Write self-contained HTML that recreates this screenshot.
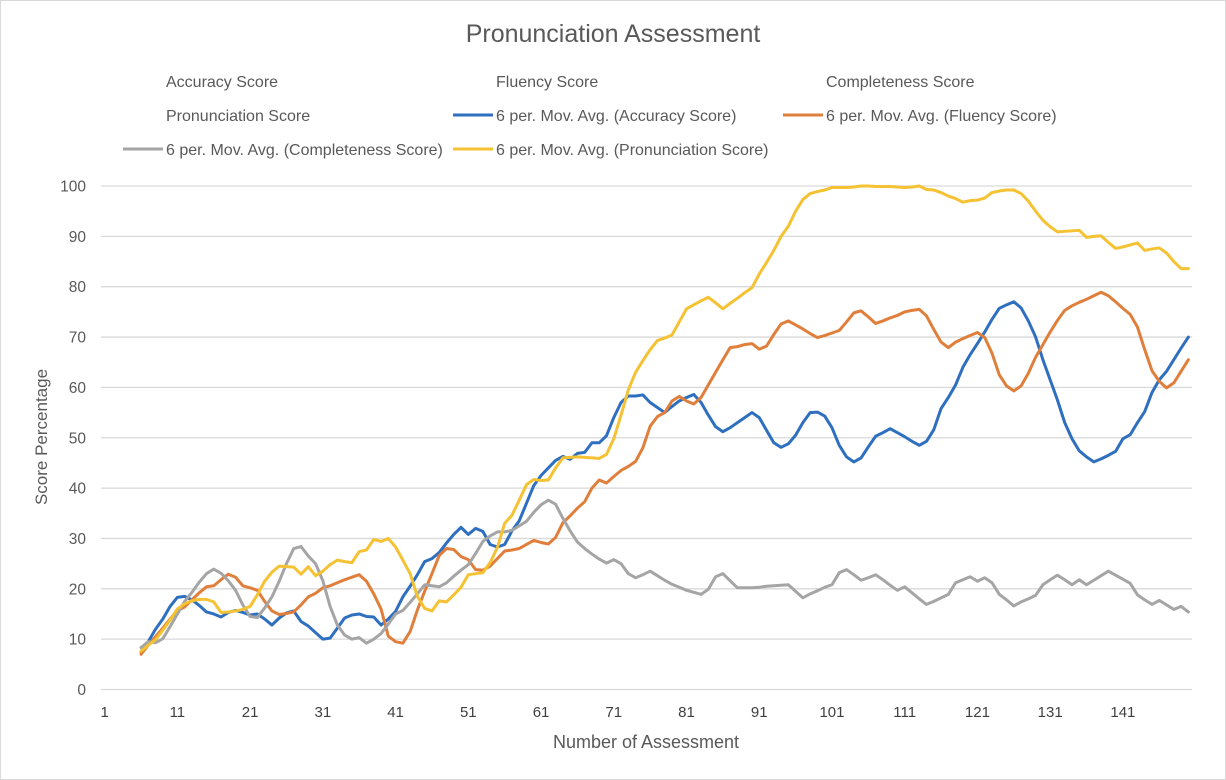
<!DOCTYPE html>
<html><head><meta charset="utf-8"><style>
body{margin:0;background:#fff;}
svg{display:block;font-family:"Liberation Sans",Calibri,sans-serif;}
</style></head><body>
<svg id="chart" width="1226" height="780" viewBox="0 0 1226 780" xmlns="http://www.w3.org/2000/svg">
<rect x="0.5" y="0.5" width="1225" height="779" fill="#fff" stroke="#d9d9d9"/>
<text x="613" y="42" text-anchor="middle" font-size="25" fill="#595959">Pronunciation Assessment</text>
<g id="legend" font-size="16" fill="#595959">
<text x="166" y="87">Accuracy Score</text>
<text x="496" y="87">Fluency Score</text>
<text x="826" y="87">Completeness Score</text>
<text x="166" y="121">Pronunciation Score</text>
<line x1="453" y1="115" x2="493" y2="115" stroke="#2e6fc0" stroke-width="3"/>
<text x="496" y="121">6 per. Mov. Avg. (Accuracy Score)</text>
<line x1="783" y1="115" x2="823" y2="115" stroke="#e07f3c" stroke-width="3"/>
<text x="826" y="121">6 per. Mov. Avg. (Fluency Score)</text>
<line x1="123" y1="149" x2="163" y2="149" stroke="#a5a5a5" stroke-width="3"/>
<text x="166" y="155">6 per. Mov. Avg. (Completeness Score)</text>
<line x1="453" y1="149" x2="493" y2="149" stroke="#f4c232" stroke-width="3"/>
<text x="496" y="155">6 per. Mov. Avg. (Pronunciation Score)</text>
</g>
<g id="grid"></g>
<g id="axes"></g>
<g id="series"></g>
<text transform="translate(47,437) rotate(-90)" text-anchor="middle" font-size="17" fill="#595959">Score Percentage</text>
<text x="646" y="748" text-anchor="middle" font-size="18" fill="#595959">Number of Assessment</text>
</svg>
<script>
const firstCategory = 6;
const categoryCount = 150;
const yTicks = [0,10,20,30,40,50,60,70,80,90,100];
const xTickLabels = [1,11,21,31,41,51,61,71,81,91,101,111,121,131,141];
const accuracyMA = [7.5,9.5,12,14,16.5,18.3,18.5,17.8,16.7,15.4,
15,14.4,15.3,15.7,15.3,14.8,15,14,12.8,14.2,
15.2,15.6,13.5,12.6,11.3,10,10.2,12.2,14.2,14.8,
15,14.5,14.4,12.8,14,15.5,18.4,20.5,22.8,25.4,
26,27.2,29.1,30.8,32.2,30.8,32,31.4,28.8,28.3,
28.8,31.5,33.5,37,40.5,42.5,44,45.5,46.3,45.7,
46.9,47.1,49,49,50.4,54,57,58.3,58.3,58.5,
57,56,55,56.2,57.3,58,58.6,57,54.5,52.2,
51.2,52,53,54,55,54,51.5,49,48.1,48.8,
50.5,53,55,55.1,54.3,52,48.5,46.2,45.2,46,
48.2,50.3,51,51.8,51,50.2,49.3,48.5,49.3,51.6,
55.8,58,60.5,64,66.5,68.7,71,73.5,75.7,76.4,
77,75.8,73.2,70,65.5,61.5,57.5,53,49.8,47.4,
46.2,45.2,45.8,46.5,47.3,49.8,50.6,53,55.2,59,
61.5,63.2,65.5,67.8,70];
const fluencyMA = [7,8.8,10.5,12.2,14,15.6,16.4,17.8,19.2,20.4,
20.6,21.8,22.9,22.3,20.6,20.2,19.7,17.5,15.6,14.9,
15.1,15.4,16.8,18.4,19.1,20.2,20.6,21.2,21.8,22.3,
22.8,21.5,19,16,10.6,9.5,9.2,11.5,15.8,19.5,
23,26.6,28,27.8,26.4,25.8,23.8,23.7,24.5,26,
27.5,27.7,28,28.8,29.6,29.2,28.9,30.2,33.1,34.5,
36,37.3,40,41.6,41,42.3,43.5,44.3,45.3,48,
52.3,54.2,55,57.3,58.2,57.3,56.7,58,60.5,63,
65.5,67.9,68.1,68.5,68.7,67.6,68.2,70.5,72.6,73.2,
72.4,71.6,70.7,69.9,70.3,70.8,71.3,73,74.8,75.2,
74,72.7,73.2,73.8,74.3,75,75.3,75.5,74.2,71.5,
69,67.9,69,69.7,70.3,70.9,69.9,66.8,62.5,60.3,
59.3,60.3,62.8,66,68.5,71,73.3,75.3,76.2,76.9,
77.5,78.2,78.9,78.2,77,75.7,74.5,72,67.5,63.3,
61.2,59.9,60.9,63.2,65.5];
const completenessMA = [8.3,9.5,9.3,10.1,12.5,15,17.5,19.3,21.3,23,
23.9,23.1,21.6,19.7,16.8,14.5,14.3,16.2,18.4,21.5,
25,28,28.4,26.5,25,21.6,16.5,12.8,10.8,10,
10.3,9.2,10,11.1,13,15,15.7,17.3,19,20.8,
20.6,20.4,21.2,22.5,23.7,24.8,27,29.4,30.5,31.3,
31.3,31.6,32.5,33.4,35.2,36.7,37.6,36.8,34,31.5,
29.3,28,26.9,25.9,25.1,25.8,25,23,22.2,22.8,
23.5,22.6,21.7,20.9,20.3,19.7,19.3,18.9,19.9,22.4,
23,21.6,20.2,20.2,20.2,20.3,20.5,20.6,20.7,20.8,
19.5,18.2,19,19.6,20.3,20.8,23.2,23.8,22.8,21.7,
22.2,22.8,21.8,20.7,19.7,20.4,19.2,18,16.9,17.5,
18.2,18.9,21.2,21.8,22.4,21.5,22.2,21.2,18.9,17.8,
16.6,17.4,18,18.7,20.8,21.8,22.7,21.8,20.8,21.8,
20.8,21.7,22.6,23.5,22.7,21.9,21.1,18.8,17.8,16.9,
17.7,16.8,15.9,16.5,15.4];
const pronunciationMA = [7.6,8.8,9.9,11.8,13.8,16,17,17.6,17.9,17.9,
17.4,15.3,15.4,15.6,15.9,16.5,18.8,21.5,23.3,24.5,
24.4,24.3,22.9,24.4,22.6,23.5,24.8,25.7,25.4,25.2,
27.4,27.7,29.8,29.4,30,28.3,25.7,23,18.5,16.1,
15.6,17.6,17.4,18.8,20.3,22.8,23,23.2,25.2,28.2,
33,34.6,37.6,40.7,41.7,41.5,41.6,44,46,46.1,
46.2,46.1,46,45.9,46.7,49.8,54.5,59.5,63,65.3,
67.5,69.3,69.8,70.4,73,75.6,76.4,77.2,77.9,76.8,
75.6,76.7,77.7,78.8,79.8,82.5,84.8,87.2,90,92,
95,97.3,98.5,98.9,99.2,99.7,99.7,99.7,99.8,100,
100,99.9,99.9,99.9,99.8,99.7,99.8,100,99.3,99.2,
98.7,98,97.5,96.8,97.1,97.2,97.6,98.7,99,99.2,
99.2,98.5,97,95,93.2,91.9,90.9,91,91.1,91.2,
89.8,90,90.1,88.8,87.6,87.9,88.3,88.7,87.2,87.5,
87.7,86.7,85,83.6,83.6];

const NS = 'http://www.w3.org/2000/svg';
const plotL = 101, plotR = 1192, y0 = 689.5, y100 = 186;
const step = (plotR - plotL) / categoryCount;
function xScale(cat){ return plotL + (cat - 0.5) * step; }
function yScale(v){ return y0 - (v / 100) * (y0 - y100); }

const grid = document.getElementById('grid');
const axes = document.getElementById('axes');
yTicks.forEach(t => {
  const ln = document.createElementNS(NS, 'line');
  
  
  ln.setAttribute('x1', plotL); ln.setAttribute('x2', plotR);
  ln.setAttribute('y1', yScale(t)); ln.setAttribute('y2', yScale(t));
  ln.setAttribute('stroke', '#d9d9d9'); ln.setAttribute('stroke-width', '1.3');
  grid.appendChild(ln);
  const tx = document.createElementNS(NS, 'text');
  
  
  tx.setAttribute('x', 86); tx.setAttribute('y', yScale(t) + 5.5);
  tx.setAttribute('text-anchor', 'end'); tx.setAttribute('font-size', '15.5');
  tx.setAttribute('fill', '#595959');
  tx.textContent = t;
  axes.appendChild(tx);
});
xTickLabels.forEach(c => {
  const tx = document.createElementNS(NS, 'text');
  
  
  tx.setAttribute('x', xScale(c)); tx.setAttribute('y', 717);
  tx.setAttribute('text-anchor', 'middle'); tx.setAttribute('font-size', '15');
  tx.setAttribute('fill', '#404040');
  tx.textContent = c;
  axes.appendChild(tx);
});

const seriesG = document.getElementById('series');
function drawSeries(vals, color, name){
  const pts = vals.map((v, i) => xScale(firstCategory + i).toFixed(2) + ',' + yScale(v).toFixed(2)).join(' ');
  const pl = document.createElementNS(NS, 'polyline');
  
  
  pl.setAttribute('points', pts);
  pl.setAttribute('fill', 'none');
  pl.setAttribute('stroke', color);
  pl.setAttribute('stroke-width', '3');
  pl.setAttribute('stroke-linejoin', 'round');
  pl.setAttribute('stroke-linecap', 'round');
  seriesG.appendChild(pl);
}
drawSeries(accuracyMA, '#2e6fc0', 'line-ma-accuracy');
drawSeries(fluencyMA, '#e07f3c', 'line-ma-fluency');
drawSeries(completenessMA, '#a5a5a5', 'line-ma-completeness');
drawSeries(pronunciationMA, '#f4c232', 'line-ma-pronunciation');
</script>
</body></html>
